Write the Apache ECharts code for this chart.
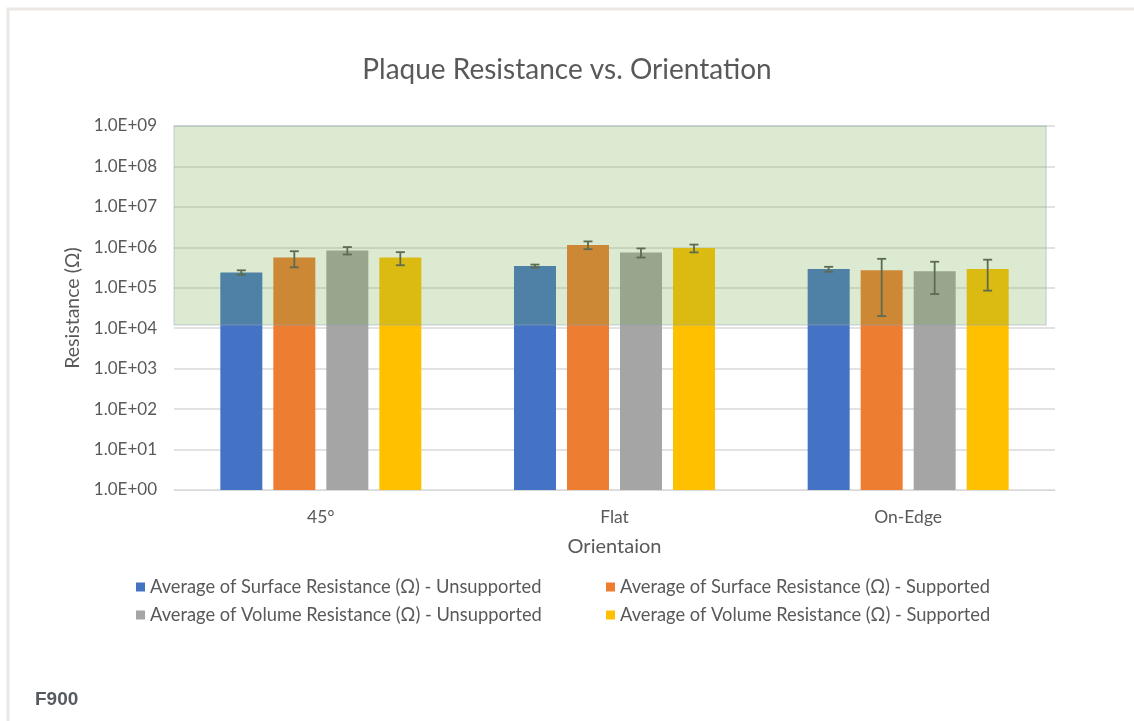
<!DOCTYPE html>
<html>
<head>
<meta charset="utf-8">
<script src="https://cdn.jsdelivr.net/npm/echarts@6/dist/echarts.min.js"></script>
<style>
  html, body { margin: 0; padding: 0; background: #fff; }
  #chart { width: 1134px; height: 721px; }
</style>
</head>
<body>
<div id="chart"></div>
<script>
const categories = ["45°", "Flat", "On-Edge"];
const seriesNames = [
  "Average of Surface Resistance (Ω) - Unsupported",
  "Average of Surface Resistance (Ω) - Supported",
  "Average of Volume Resistance (Ω) - Unsupported",
  "Average of Volume Resistance (Ω) - Supported",
];
const colors = ["#4472c4", "#ed7d31", "#a5a5a5", "#ffc000"];

const surfaceUnsupported = [2.4e5, 3.45e5, 2.9e5];
const surfaceSupported = [5.6e5, 1.15e6, 2.7e5];
const volumeUnsupported = [8.4e5, 7.5e5, 2.55e5];
const volumeSupported = [5.6e5, 9.6e5, 2.9e5];

const surfaceUnsupportedErr = [3e4, 3e4, 4e4];
const surfaceSupportedErr = [2.4e5, 2.5e5, 2.5e5];
const volumeUnsupportedErr = [1.75e5, 1.9e5, 1.85e5];
const volumeSupportedErr = [2e5, 2.1e5, 2.05e5];

const yTicks = [1, 1e1, 1e2, 1e3, 1e4, 1e5, 1e6, 1e7, 1e8, 1e9];
// green "target" band
const bandLow = 1.2e4;
const bandHigh = 1e9;
const bandRight = 0.99;

const values = [surfaceUnsupported, surfaceSupported, volumeUnsupported, volumeSupported];
const errors = [surfaceUnsupportedErr, surfaceSupportedErr, volumeUnsupportedErr, volumeSupportedErr];

const BAR_W = 42;
const BAR_GAP = 11;

const errData = [];
values.forEach((vals, s) => {
  vals.forEach((v, c) => {
    errData.push([c, s, v - errors[s][c], v + errors[s][c]]);
  });
});

const textColor = "#595959";
const font = "Lato, 'Open Sans', sans-serif";

const chart = echarts.init(document.getElementById("chart"));

chart.setOption({
  animation: false,
  textStyle: { fontFamily: font },
  title: [
    {
      text: "Plaque Resistance vs. Orientation",
      left: "center",
      top: 51,
      textStyle: { color: textColor, fontSize: 28, fontWeight: "normal", fontFamily: font },
    },
    {
      text: "F900",
      left: 30,
      top: 685,
      textStyle: { color: "#555a60", fontSize: 19, fontWeight: "bold", fontFamily: "'Liberation Sans', Arial, sans-serif" },
    },
  ],
  graphic: [
    {
      type: "rect",
      shape: { x: 8, y: 9, width: 1300, height: 900 },
      style: { fill: null, stroke: "#ebe8e4", lineWidth: 3 },
      silent: true,
    },
  ],
  legend: [
    {
      data: [seriesNames[0], seriesNames[2]],
      orient: "vertical",
      left: 131,
      top: 573,
      itemWidth: 9,
      itemHeight: 9,
      itemGap: 10,
      icon: "rect",
      textStyle: { color: textColor, fontSize: 18.3 },
    },
    {
      data: [seriesNames[1], seriesNames[3]],
      orient: "vertical",
      left: 601,
      top: 573,
      itemWidth: 9,
      itemHeight: 9,
      itemGap: 10,
      icon: "rect",
      textStyle: { color: textColor, fontSize: 18.3 },
    },
  ],
  grid: { left: 174, right: 79, top: 126, bottom: 231 },
  xAxis: [
    {
      type: "category",
      data: categories,
      name: "Orientaion",
      nameLocation: "middle",
      nameGap: 47,
      nameTextStyle: { color: textColor, fontSize: 20 },
      axisLine: { lineStyle: { color: "#d9d9d9", width: 1 } },
      axisTick: { show: false },
      axisLabel: { color: textColor, fontSize: 17.5, margin: 18 },
    },
    { type: "value", min: 0, max: 1, show: false },
  ],
  yAxis: {
    type: "log",
    logBase: 10,
    min: yTicks[0],
    max: yTicks[yTicks.length - 1],
    name: "Resistance (Ω)",
    nameLocation: "middle",
    nameGap: 91,
    nameTextStyle: { color: textColor, fontSize: 19.5 },
    axisLine: { show: false },
    axisTick: { show: false },
    splitLine: { lineStyle: { color: "#d9d9d9", width: 1.5 } },
    axisLabel: {
      color: textColor,
      fontSize: 17,
      margin: 17,
      formatter: (v) => {
        const e = Math.round(Math.log10(v));
        return "1.0E+" + String(e).padStart(2, "0");
      },
    },
  },
  series: [
    ...seriesNames.map((name, s) => ({
      name,
      type: "bar",
      data: values[s],
      barWidth: BAR_W,
      barGap: (BAR_GAP / BAR_W * 100).toFixed(1) + "%",
      itemStyle: { color: colors[s] },
      z: 2,
    })),
    {
      type: "custom",
      name: "err",
      data: errData,
      z: 4,
      silent: true,
      renderItem: (params, api) => {
        const c = api.value(0);
        const s = api.value(1);
        const off = (s - 1.5) * (BAR_W + BAR_GAP);
        const lo = api.coord([c, api.value(2)]);
        const hi = api.coord([c, api.value(3)]);
        const x = lo[0] + off;
        const half = 4.5;
        const st = { stroke: "#5d6b50", lineWidth: 1.8 };
        return {
          type: "group",
          children: [
            { type: "line", shape: { x1: x, y1: lo[1], x2: x, y2: hi[1] }, style: st },
            { type: "line", shape: { x1: x - half, y1: lo[1], x2: x + half, y2: lo[1] }, style: st },
            { type: "line", shape: { x1: x - half, y1: hi[1], x2: x + half, y2: hi[1] }, style: st },
          ],
        };
      },
    },
    {
      type: "line",
      name: "band",
      xAxisIndex: 1,
      data: [[0, yTicks[0]]],
      showSymbol: false,
      lineStyle: { opacity: 0 },
      silent: true,
      markArea: {
        silent: true,
        z: 3,
        itemStyle: {
          color: "rgba(112,173,71,0.25)",
          borderColor: "rgba(150,170,190,0.35)",
          borderWidth: 1.5,
        },
        data: [[{ coord: [0, bandLow] }, { coord: [bandRight, bandHigh] }]],
      },
    },
  ],
});
</script>
</body>
</html>
